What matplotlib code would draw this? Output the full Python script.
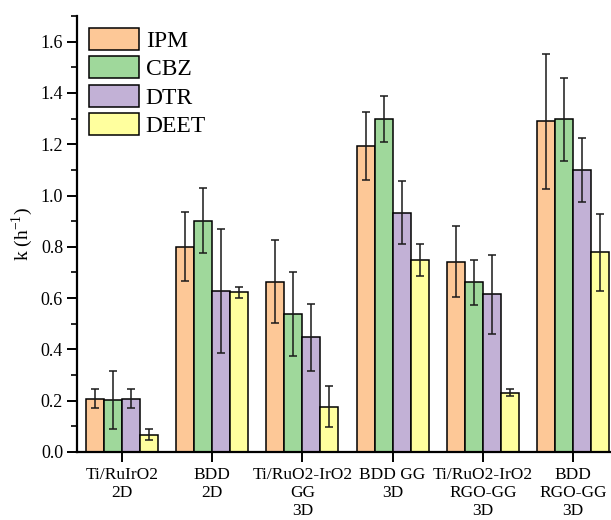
import matplotlib
matplotlib.use("Agg")
import matplotlib.pyplot as plt
import numpy as np
from matplotlib.ticker import MultipleLocator

plt.rcParams['font.family'] = ['Liberation Serif', 'DejaVu Serif']
plt.rcParams['mathtext.fontset'] = 'custom'
plt.rcParams['mathtext.rm'] = 'Liberation Serif'

categories = ["Ti/RuIrO2\n2D", "BDD\n2D", "Ti/RuO2-IrO2\nGG\n3D",
              "BDD GG\n3D", "Ti/RuO2-IrO2\nRGO-GG\n3D", "BDD\nRGO-GG\n3D"]
series = ["IPM", "CBZ", "DTR", "DEET"]

ipm = [0.207, 0.800, 0.664, 1.194, 0.742, 1.289]
cbz = [0.201, 0.902, 0.538, 1.298, 0.661, 1.297]
dtr = [0.208, 0.628, 0.448, 0.933, 0.615, 1.098]
deet = [0.068, 0.622, 0.177, 0.748, 0.231, 0.779]

ipm_err = [0.037, 0.135, 0.161, 0.133, 0.138, 0.263]
cbz_err = [0.113, 0.128, 0.165, 0.091, 0.089, 0.161]
dtr_err = [0.037, 0.243, 0.131, 0.122, 0.155, 0.125]
deet_err = [0.020, 0.023, 0.081, 0.062, 0.014, 0.150]

colors = ["#FDC897", "#9FD89B", "#C2B1D6", "#FFFF9E"]

values = [ipm, cbz, dtr, deet]
errors = [ipm_err, cbz_err, dtr_err, deet_err]

fig = plt.figure(figsize=(6.11, 5.20), dpi=100)
W, H = 611, 520
left, right, top, bottom = 77, 618, 16, 452
ax = fig.add_axes([left / W, 1 - bottom / H, (right - left) / W, (bottom - top) / H])

x = np.arange(len(categories))
bw = 0.2
for i, (vals, errs) in enumerate(zip(values, errors)):
    pos = x + (i - 1.5) * bw
    ax.bar(pos, vals, width=bw, color=colors[i], edgecolor="black",
           linewidth=1.1, label=series[i], zorder=2)
    ax.errorbar(pos, vals, yerr=errs, fmt="none", ecolor="#1a1a1a",
                elinewidth=1.1, capsize=3.2, capthick=1.1, zorder=3)

ax.set_xlim(-0.5, 5.5)
ax.set_ylim(0, 1.7)
ax.set_xticks(x)
ax.set_xticklabels(categories, fontsize=12.5, linespacing=1.15)
ax.yaxis.set_minor_locator(MultipleLocator(0.1))
yt = np.arange(0, 1.61, 0.2)
ax.set_yticks(yt)
ax.set_yticklabels([f"{v:.1f}" for v in yt], fontsize=13)

for s in ("top", "right"):
    ax.spines[s].set_visible(False)
for s in ("left", "bottom"):
    ax.spines[s].set_linewidth(1.6)

ax.tick_params(axis="y", which="major", direction="out", length=7, width=1.4, pad=3)
ax.tick_params(axis="y", which="minor", direction="out", length=4, width=1.2)
ax.tick_params(axis="x", which="major", direction="out", length=7, width=1.4, pad=4)
ax.tick_params(axis="x", which="minor", bottom=False)

ax.set_ylabel("k (h$^{\\mathregular{-1}}$)", fontsize=14, labelpad=4)

ax.legend(loc="upper left",
          bbox_to_anchor=((89 - left) / (right - left), (bottom - 28) / (bottom - top)),
          frameon=False, fontsize=17, handlelength=2.1, handleheight=1.05,
          labelspacing=0.19, handletextpad=0.3, borderpad=0, borderaxespad=0)

fig.savefig("out.png", dpi=100)
